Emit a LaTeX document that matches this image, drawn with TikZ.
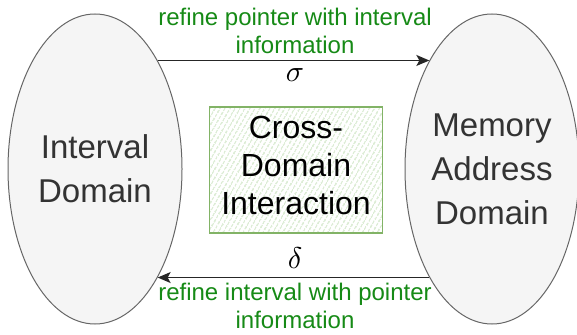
\documentclass[tikz,border=0pt]{standalone}
\usepackage{fontspec}
\setmainfont{Liberation Sans}
\usepackage{tikz}
\usetikzlibrary{arrows.meta,shapes.geometric,patterns.meta}
\definecolor{domfill}{RGB}{245,245,245}
\definecolor{domline}{RGB}{102,102,102}
\definecolor{domtext}{RGB}{51,51,51}
\definecolor{xgreen}{RGB}{130,179,102}
\definecolor{xhatch}{RGB}{160,204,140}
\definecolor{lblgreen}{RGB}{22,138,22}
\newcommand{\bigsym}[1]{\scalebox{3.0}{$#1$}}
\tikzset{
  dom/.style={ellipse, draw=domline, line width=1pt, fill=domfill, inner sep=0pt,
              minimum width=174pt, minimum height=310pt, align=center, text=domtext,
              font=\fontsize{33}{44}\selectfont},
  xbox/.style={rectangle, draw=xgreen, line width=1.4pt,
               pattern={Lines[angle=60, distance=4pt, line width=0.6pt]}, pattern color=xhatch,
               minimum width=173pt, minimum height=126pt, inner sep=0pt, text depth=10pt,
               align=center, font=\fontsize{32}{38}\selectfont},
  ar/.style={-{Stealth[length=13pt, width=11pt, inset=3pt]}, line width=1.4pt, draw=black!85},
  lbl/.style={text=lblgreen, align=center, inner sep=0pt, font=\fontsize{24}{28.5}\selectfont},
  gk/.style={inner sep=0pt, font=\normalsize},
}

\begin{document}
\begin{tikzpicture}[x=1pt, y=-1pt]
\useasboundingbox (0,0) rectangle (577,334);

%% =====================================================================
%% the two domains and the interaction box between them
%% =====================================================================
\node[dom] (idom) at (95,169) {Interval\\Domain};
\node[dom] (mdom) at (492,169) {Memory\\Address\\Domain};
\node[xbox] (xint) at (296,170) {Cross-\\Domain\\Interaction};

%% =====================================================================
%% refinements in both directions
%% =====================================================================
\draw[ar] (idom.60) -- (mdom.120);
\draw[ar] (mdom.240) -- (idom.-60);

\node[lbl] (toplbl) at (295,31) {refine pointer with interval\\information};
\node[gk]  (sig)    at (295,75) {\bigsym{\sigma}};
\node[gk]  (del)    at (295,258) {\bigsym{\delta}};
\node[lbl] (botlbl) at (295,306) {refine interval with pointer\\information};

\end{tikzpicture}
\end{document}
